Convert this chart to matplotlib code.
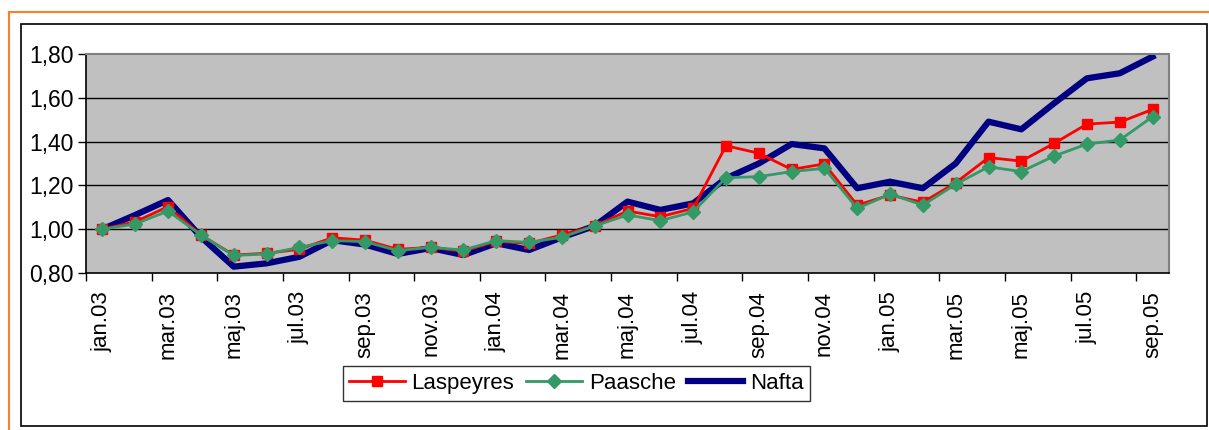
import matplotlib
matplotlib.use("Agg")
import matplotlib.pyplot as plt
from matplotlib.lines import Line2D
from matplotlib.patches import Rectangle
import matplotlib.ticker as mticker

months = ["jan.03","feb.03","mar.03","apr.03","maj.03","jun.03","jul.03","aug.03","sep.03","okt.03","nov.03","dec.03",
          "jan.04","feb.04","mar.04","apr.04","maj.04","jun.04","jul.04","aug.04","sep.04","okt.04","nov.04","dec.04",
          "jan.05","feb.05","mar.05","apr.05","maj.05","jun.05","jul.05","aug.05","sep.05"]
laspeyres = [1.00,1.034,1.103,0.974,0.882,0.89,0.908,0.961,0.95,0.908,0.917,0.90,
             0.945,0.935,0.974,1.015,1.083,1.057,1.095,1.381,1.347,1.273,1.298,1.11,
             1.156,1.123,1.212,1.327,1.311,1.392,1.48,1.489,1.547]
paasche = [1.00,1.024,1.083,0.974,0.88,0.887,0.917,0.948,0.943,0.902,0.917,0.905,
           0.948,0.94,0.963,1.015,1.065,1.039,1.079,1.235,1.24,1.263,1.278,1.095,
           1.16,1.11,1.205,1.285,1.263,1.334,1.389,1.407,1.514]
nafta = [1.00,1.065,1.133,0.965,0.829,0.844,0.874,0.95,0.93,0.887,0.914,0.882,
         0.936,0.905,0.963,1.015,1.126,1.088,1.118,1.232,1.30,1.389,1.369,1.187,
         1.217,1.187,1.30,1.491,1.456,1.575,1.689,1.712,1.788]
yticks = [0.80,1.00,1.20,1.40,1.60,1.80]

W, H = 1209, 430
fig = plt.figure(figsize=(W/100, H/100), dpi=100)
plt.rcParams['font.family'] = ['Liberation Sans', 'DejaVu Sans']

def fx(x): return x / W
def fy(y): return 1 - y / H

# orange frame lines
orange = '#FF7F27'
fig.add_artist(Line2D([fx(9), fx(1209)], [fy(12), fy(12)], color=orange, lw=1.5, transform=fig.transFigure))
fig.add_artist(Line2D([fx(9), fx(9)], [fy(12), fy(430)], color=orange, lw=1.5, transform=fig.transFigure))
# black chart border
fig.add_artist(Rectangle((fx(21), fy(425.5)), fx(1207) - fx(21), fy(24) - fy(425.5),
                         fill=False, edgecolor='black', lw=1.2, transform=fig.transFigure))

ax = fig.add_axes([fx(86), fy(273), fx(1169) - fx(86), fy(54) - fy(273)])
ax.set_facecolor('#C0C0C0')
x = list(range(len(months)))

ax.plot(x, laspeyres, color='#FF0000', lw=2, marker='s', markersize=7.5, label='Laspeyres', zorder=3)
ax.plot(x, paasche, color='#339966', lw=2, marker='D', markersize=7.5, label='Paasche', zorder=4)
ax.plot(x, nafta, color='#000080', lw=4.5, label='Nafta', zorder=2)

ax.set_xlim(-0.5, len(months) - 0.5)
ax.set_ylim(0.80, 1.80)
ax.set_yticks(yticks)
ax.yaxis.set_major_formatter(mticker.FuncFormatter(lambda v, p: f"{v:.2f}".replace('.', ',')))
for v in yticks[1:-1]:
    ax.axhline(v, color='black', lw=1, zorder=1)

ax.set_xticks(x[::2])
ax.set_xticklabels(months[::2], rotation=90, fontsize=16)
ax.set_xticks([i - 0.5 for i in range(0, len(months) + 1, 2)], minor=True)
ax.tick_params(axis='x', which='major', length=0, pad=13)
ax.tick_params(axis='x', which='minor', length=6, width=1, direction='out', color='black')
ax.tick_params(axis='y', labelsize=16.5, length=6, width=1, color='black', pad=3)

for s in ['top', 'right']:
    ax.spines[s].set_color('#808080')
    ax.spines[s].set_linewidth(1.5)
for s in ['left', 'bottom']:
    ax.spines[s].set_color('black')
    ax.spines[s].set_linewidth(1.2)

leg = fig.legend(loc='center', bbox_to_anchor=(fx(576.5), fy(383.5)), ncol=3, fontsize=16,
                 frameon=True, fancybox=False, edgecolor='black', handlelength=2.5,
                 handletextpad=0.3, columnspacing=0.55, borderpad=0.3, borderaxespad=0)
leg.get_frame().set_linewidth(1)

fig.savefig('out.png', dpi=100)
